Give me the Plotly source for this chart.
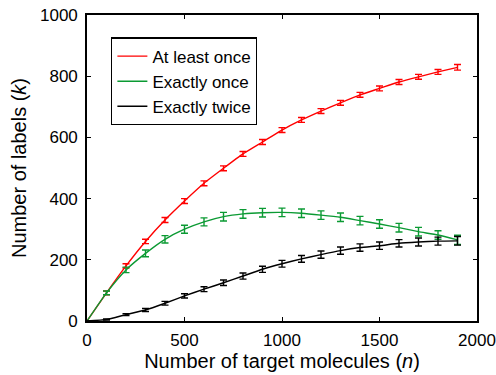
import plotly.graph_objects as go

n_values = [0, 100, 200, 300, 400, 500, 600, 700, 800, 900, 1000,
            1100, 1200, 1300, 1400, 1500, 1600, 1700, 1800, 1900]

at_least_once = [0, 92, 180, 260, 330, 392, 450, 499, 546, 585, 624,
                 657, 686, 713, 739, 760, 781, 798, 814, 829]
at_least_once_err = [0, 6, 7, 7, 8, 8, 8, 8, 8, 8, 8,
                     8, 8, 8, 8, 8, 8, 8, 8, 9]

exactly_once = [0, 92, 167, 221, 267, 300, 324, 341, 350, 354, 355,
                352, 346, 339, 328, 317, 305, 292, 281, 265]
exactly_once_err = [0, 6, 9, 11, 12, 13, 13, 14, 14, 14, 14,
                    14, 14, 14, 14, 14, 14, 14, 14, 15]

exactly_twice = [0, 5, 21, 36, 58, 82, 104, 125, 147, 169, 187,
                 203, 217, 230, 240, 246, 254, 258, 261, 262]
exactly_twice_err = [0, 2, 3, 5, 6, 7, 8, 9, 10, 10, 11,
                     11, 12, 12, 12, 12, 12, 13, 13, 14]

series = [
    ("At least once", at_least_once, at_least_once_err, "#ff0000"),
    ("Exactly once", exactly_once, exactly_once_err, "#0b9a33"),
    ("Exactly twice", exactly_twice, exactly_twice_err, "#000000"),
]

fig = go.Figure()
for name, ys, errs, color in series:
    fig.add_trace(go.Scatter(
        x=n_values, y=ys, name=name, mode="lines",
        line=dict(color=color, width=1.4, shape="spline", smoothing=0.5),
        error_y=dict(type="data", array=errs, visible=True,
                     color=color, thickness=1.4, width=3.5),
    ))

font = "Liberation Sans, Arial, sans-serif"
axis_common = dict(
    showline=True, linecolor="black", linewidth=1.6, mirror="ticks",
    ticks="inside", ticklen=4, tickcolor="black", tickwidth=1,
    showgrid=False, zeroline=False, automargin=False,
    ticklabeloverflow="allow",
    tickfont=dict(family=font, size=17, color="black"),
)

fig.update_layout(
    width=496, height=375,
    margin=dict(l=87, r=19, t=15, b=54),
    paper_bgcolor="white", plot_bgcolor="white",
    font=dict(family=font, color="black"),
    xaxis=dict(range=[0, 2000], tickvals=[0, 500, 1000, 1500, 2000],
               ticklabelstandoff=3,
               title=dict(text="Number of target molecules (<i>n</i>)",
                          font=dict(size=20), standoff=3),
               **axis_common),
    yaxis=dict(range=[0, 1000], tickvals=[0, 200, 400, 600, 800, 1000],
               ticklabelstandoff=4,
               title=dict(text="Number of labels (<i>k</i>)",
                          font=dict(size=20), standoff=8),
               **axis_common),
    legend=dict(x=0.062, y=0.927, xanchor="left", yanchor="top",
                bgcolor="white", bordercolor="black", borderwidth=1.2,
                font=dict(size=17, family=font), itemwidth=30,
                tracegroupgap=0),
    showlegend=True,
)

# remove the browser's default 8px body margin so the figure sits at (0, 0)
fig.write_html("out.html",
               config={"displayModeBar": False},
               post_script="document.body.style.margin='0';")
